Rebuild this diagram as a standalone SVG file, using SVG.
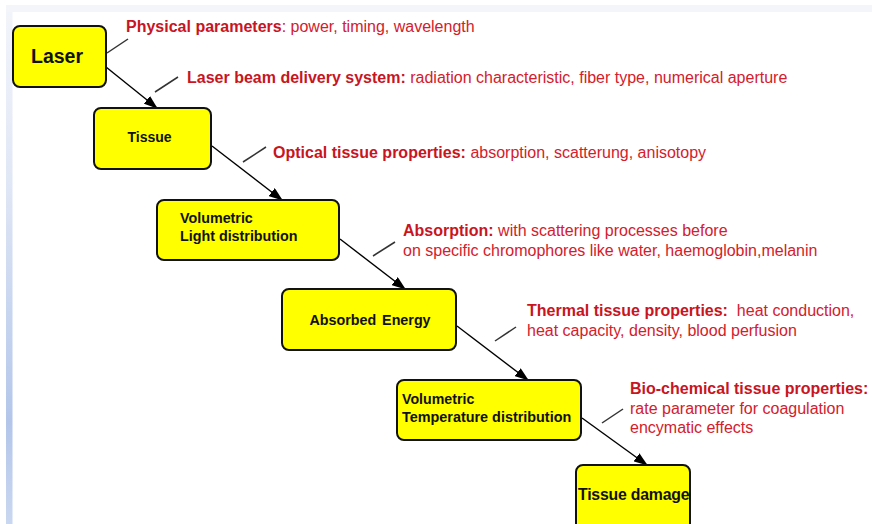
<svg xmlns="http://www.w3.org/2000/svg" width="872" height="524" viewBox="0 0 872 524">
  <defs>
    <linearGradient id="sideBand" x1="0" y1="0" x2="0" y2="1">
      <stop offset="0" stop-color="#f2f4fa"/>
      <stop offset="0.35" stop-color="#dfe6f5"/>
      <stop offset="0.8" stop-color="#b3c6ea"/>
      <stop offset="1" stop-color="#cad7f0"/>
    </linearGradient>
    <marker id="arrow" viewBox="0 0 14 10" markerWidth="14" markerHeight="10" refX="13" refY="5" orient="auto" markerUnits="userSpaceOnUse">
      <path d="M0,0 L14,5 L0,10 z" fill="#000"/>
    </marker>
    <style>
      .box { fill: #ffff00; stroke: #111; stroke-width: 2; }
      .lbl { font-family: "Liberation Sans", Arial, sans-serif; font-weight: bold; fill: #111; }
      .note { font-family: "Liberation Sans", Arial, sans-serif; font-size: 16px; fill: #d4202c; white-space: pre; }
      .note .b { font-weight: bold; fill: #c8151f; }
      .flow { stroke: #000; stroke-width: 1.4; fill: none; marker-end: url(#arrow); }
      .tick { stroke: #333; stroke-width: 1.5; }
    </style>
  </defs>

  <!-- slide frame bands -->
  <rect x="0" y="0" width="872" height="524" fill="#fff"/>
  <rect x="6" y="5" width="866" height="7" fill="#f3f5fb"/>
  <rect x="6" y="12" width="6.5" height="512" fill="url(#sideBand)"/>

  <!-- connectors -->
  <g id="connectors">
    <line class="flow" x1="106" y1="67" x2="157" y2="108"/>
    <line class="flow" x1="212" y1="146" x2="282" y2="200"/>
    <line class="flow" x1="340" y1="239" x2="405" y2="289"/>
    <line class="flow" x1="457" y1="326" x2="528" y2="380"/>
    <line class="flow" x1="582" y1="418" x2="647" y2="465"/>
    <line class="tick" x1="107" y1="53" x2="128" y2="39"/>
    <line class="tick" x1="155" y1="92" x2="178" y2="77"/>
    <line class="tick" x1="243" y1="162" x2="266" y2="147"/>
    <line class="tick" x1="373" y1="256" x2="395" y2="242"/>
    <line class="tick" x1="495" y1="341" x2="516" y2="327"/>
    <line class="tick" x1="602" y1="423" x2="623" y2="409"/>
  </g>

  <!-- nodes -->
  <g id="laser">
    <rect class="box" x="13" y="26" width="93" height="61" rx="7"/>
    <text class="lbl" x="57" y="63" font-size="19.5" text-anchor="middle">Laser</text>
  </g>
  <g id="tissue">
    <rect class="box" x="94" y="108" width="117" height="61" rx="7"/>
    <text class="lbl" x="149.5" y="142" font-size="14" text-anchor="middle">Tissue</text>
  </g>
  <g id="light-distribution">
    <rect class="box" x="157" y="200" width="182" height="60" rx="7"/>
    <text class="lbl" x="180" y="223" font-size="14.3">Volumetric</text>
    <text class="lbl" x="180" y="241" font-size="14.3">Light distribution</text>
  </g>
  <g id="absorbed-energy">
    <rect class="box" x="282" y="289" width="174" height="61" rx="7"/>
    <text class="lbl" x="370" y="325" font-size="14.3" text-anchor="middle" word-spacing="2">Absorbed Energy</text>
  </g>
  <g id="temperature-distribution">
    <rect class="box" x="397" y="380" width="184" height="60" rx="7"/>
    <text class="lbl" x="402" y="404" font-size="14.2">Volumetric</text>
    <text class="lbl" x="402" y="422" font-size="14.4">Temperature distribution</text>
  </g>
  <g id="tissue-damage">
    <rect class="box" x="576" y="465" width="114" height="70" rx="7"/>
    <text class="lbl" x="578" y="500" font-size="15.8" letter-spacing="-0.2">Tissue damage</text>
  </g>

  <!-- parameter notes -->
  <g id="notes">
    <text class="note" x="126" y="32"><tspan class="b">Physical parameters</tspan>: power, timing, wavelength</text>
    <text class="note" x="187" y="83"><tspan class="b">Laser beam delivery system:</tspan> radiation characteristic, fiber type, numerical aperture</text>
    <text class="note" x="273" y="158"><tspan class="b">Optical tissue properties:</tspan> absorption, scatterung, anisotopy</text>
    <text class="note" x="403" y="236"><tspan class="b">Absorption:</tspan> with scattering processes before</text>
    <text class="note" x="403" y="256">on specific chromophores like water, haemoglobin,melanin</text>
    <text class="note" x="527" y="316"><tspan class="b">Thermal tissue properties:</tspan>  heat conduction,</text>
    <text class="note" x="527" y="336">heat capacity, density, blood perfusion</text>
    <text class="note" x="630" y="394"><tspan class="b">Bio-chemical tissue properties:</tspan></text>
    <text class="note" x="630" y="414">rate parameter for coagulation</text>
    <text class="note" x="630" y="433">encymatic effects</text>
  </g>
</svg>
